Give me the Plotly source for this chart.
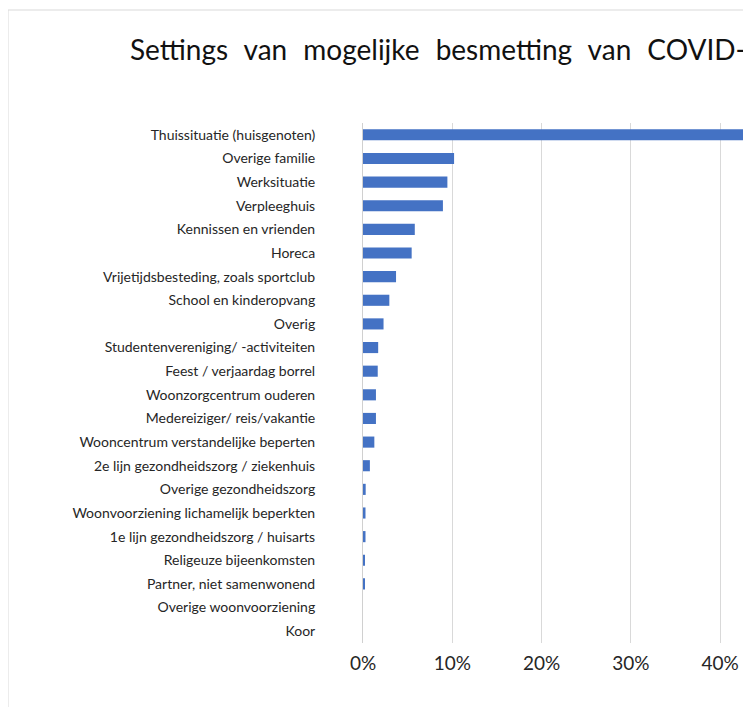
import plotly.graph_objects as go

categories = [
    "Thuissituatie (huisgenoten)",
    "Overige familie",
    "Werksituatie",
    "Verpleeghuis",
    "Kennissen en vrienden",
    "Horeca",
    "Vrijetijdsbesteding, zoals sportclub",
    "School en kinderopvang",
    "Overig",
    "Studentenvereniging/ -activiteiten",
    "Feest / verjaardag borrel",
    "Woonzorgcentrum ouderen",
    "Medereiziger/ reis/vakantie",
    "Wooncentrum verstandelijke beperten",
    "2e lijn gezondheidszorg / ziekenhuis",
    "Overige gezondheidszorg",
    "Woonvoorziening lichamelijk beperkten",
    "1e lijn gezondheidszorg / huisarts",
    "Religeuze bijeenkomsten",
    "Partner, niet samenwonend",
    "Overige woonvoorziening",
    "Koor",
]
values = [55.0, 10.2, 9.45, 8.95, 5.8, 5.45, 3.7, 2.95, 2.3, 1.7, 1.65, 1.45,
          1.45, 1.27, 0.77, 0.3, 0.28, 0.28, 0.12, 0.12, 0.0, 0.0]
tick_vals = [0, 10, 20, 30, 40]
tick_text = ["0%", "10%", "20%", "30%", "40%"]
title_words = ["Settings", "van", "mogelijke", "besmetting", "van", "COVID-19"]
title_text = "\u00a0\u200a ".join(title_words)

FONT = "Lato, 'Open Sans', sans-serif"

fig = go.Figure(go.Bar(
    x=values, y=categories, orientation="h",
    marker=dict(color="#4472C4", line=dict(width=0)),
    width=0.47,
))

# figure is placed at (8, 8) in the page by the default body margin
W, H = 743, 699
L, T, B = 355, 115, 64
pw = W - L
ph = H - T - B

def px_x(p):
    return (p - L) / pw

def px_y(p):
    return (H - B - p) / ph

fig.update_layout(
    width=W, height=H,
    margin=dict(l=L, r=0, t=T, b=B),
    paper_bgcolor="white", plot_bgcolor="white",
    showlegend=False,
    font=dict(family=FONT, color="#262626"),
    xaxis=dict(
        range=[0, 43.45], tickvals=tick_vals, ticktext=tick_text,
        showgrid=True, gridcolor="#d9d9d9", gridwidth=1,
        zeroline=False, showline=False,
        ticks="outside", ticklen=3, tickcolor="rgba(0,0,0,0)",
        tickfont=dict(size=19, color="#262626", family=FONT),
    ),
    yaxis=dict(
        autorange="reversed",
        showgrid=False, zeroline=False,
        showline=True, linecolor="#d0d0d0", linewidth=1,
        ticks="", ticklabelstandoff=44,
        tickfont=dict(size=14, color="#262626", family=FONT),
    ),
    shapes=[dict(
        type="rect", xref="paper", yref="paper",
        x0=px_x(0), x1=px_x(W + 50), y0=px_y(H + 50), y1=px_y(2),
        line=dict(color="#d9d9d9", width=1), fillcolor="rgba(0,0,0,0)",
        layer="below",
    )],
    annotations=[dict(
        text=title_text, xref="paper", yref="paper",
        x=px_x(120), y=px_y(41), xanchor="left", yanchor="middle",
        showarrow=False, font=dict(size=28, color="#111111", family=FONT),
    )],
)

fig.write_html("out.html")
